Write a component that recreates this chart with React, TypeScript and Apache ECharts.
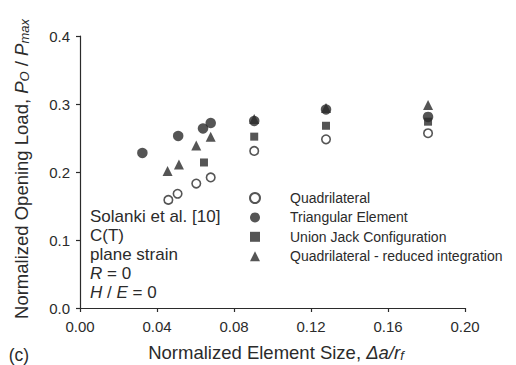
import React, { useEffect, useRef } from "react";
import * as echarts from "echarts";

// ---- data ----
const quadX = [0.0459, 0.0507, 0.0604, 0.0679, 0.0905, 0.1278, 0.1808];
const quadY = [0.159, 0.168, 0.183, 0.192, 0.231, 0.248, 0.257];

const triElemX = [0.0324, 0.051, 0.0639, 0.0679, 0.0905, 0.1278, 0.1808];
const triElemY = [0.228, 0.253, 0.264, 0.272, 0.275, 0.292, 0.281];

const unionX = [0.0644, 0.0905, 0.1278, 0.1808];
const unionY = [0.214, 0.252, 0.268, 0.274];

const reducedX = [0.0455, 0.0514, 0.0604, 0.0679, 0.0905, 0.1278, 0.1808];
const reducedY = [0.2015, 0.211, 0.239, 0.252, 0.278, 0.294, 0.2985];

const seriesNames = [
  "Quadrilateral",
  "Triangular Element",
  "Union Jack Configuration",
  "Quadrilateral - reduced integration",
];

const xTicks = { min: 0, max: 0.2, interval: 0.04 };
const yTicks = { min: 0, max: 0.4, interval: 0.1 };

const annotationLines = ["Solanki et al. [10]", "C(T)", "plane strain", "{i|R} = 0", "{i|H} / {i|E} = 0"];

const zip = (xs: number[], ys: number[]) => xs.map((x, i) => [x, ys[i]]);

const INK = "#2b2b2b";
const FONT = "'Liberation Sans', Arial, Helvetica, sans-serif";

export default function App() {
  const ref = useRef<HTMLDivElement>(null);
  useEffect(() => {
    if (!ref.current) return;
    const chart = echarts.init(ref.current, undefined, { renderer: "svg" });
    const titleRich = {
      i: { fontStyle: "italic", fontSize: 18.5, fontFamily: FONT, fill: INK, lineHeight: 20 },
      s: { fontStyle: "italic", fontSize: 13, fontFamily: FONT, fill: INK, lineHeight: 14, verticalAlign: "bottom" },
    };
    chart.setOption({
      animation: false,
      backgroundColor: "#ffffff",
      textStyle: { fontFamily: FONT, color: INK },
      grid: { left: 80, top: 36, width: 385, height: 272, containLabel: false },
      xAxis: {
        type: "value",
        min: xTicks.min,
        max: xTicks.max,
        interval: xTicks.interval,
        axisLine: { show: true, lineStyle: { color: INK, width: 1.2 } },
        axisTick: { show: true, inside: false, length: 4, lineStyle: { color: INK, width: 1.2 } },
        splitLine: { show: false },
        axisLabel: {
          margin: 11,
          fontSize: 15,
          color: INK,
          fontFamily: FONT,
          formatter: (v: number) => v.toFixed(2),
        },
      },
      yAxis: {
        type: "value",
        min: yTicks.min,
        max: yTicks.max,
        interval: yTicks.interval,
        axisLine: { show: true, lineStyle: { color: INK, width: 1.2 } },
        axisTick: { show: true, inside: false, length: 4, lineStyle: { color: INK, width: 1.2 } },
        splitLine: { show: false },
        axisLabel: {
          margin: 10,
          fontSize: 15,
          color: INK,
          fontFamily: FONT,
          formatter: (v: number) => v.toFixed(1),
        },
      },
      legend: {
        orient: "vertical",
        left: 249,
        top: 191,
        padding: 0,
        itemWidth: 10,
        itemHeight: 10,
        itemGap: 5.4,
        textStyle: { fontSize: 14, color: INK, fontFamily: FONT, padding: [0, 0, 0, 25] },
        data: seriesNames,
      },
      series: [
        {
          name: seriesNames[0],
          type: "scatter",
          symbol: "circle",
          symbolSize: 8.5,
          itemStyle: { color: "#ffffff", borderColor: INK, borderWidth: 1.6 },
          data: zip(quadX, quadY),
          z: 2,
        },
        {
          name: seriesNames[3],
          type: "scatter",
          symbol: "triangle",
          symbolSize: 10,
          itemStyle: { color: INK },
          data: zip(reducedX, reducedY),
          z: 3,
        },
        {
          name: seriesNames[2],
          type: "scatter",
          symbol: "rect",
          symbolSize: 8,
          itemStyle: { color: INK },
          data: zip(unionX, unionY),
          z: 4,
        },
        {
          name: seriesNames[1],
          type: "scatter",
          symbol: "circle",
          symbolSize: 10.5,
          itemStyle: { color: INK },
          data: zip(triElemX, triElemY),
          z: 5,
        },
      ],
      graphic: [
        {
          type: "text",
          x: 21,
          y: 169,
          rotation: Math.PI / 2,
          style: {
            text: "Normalized Opening Load, {i|P}{s|O} / {i|P}{s|max}",
            align: "center",
            verticalAlign: "middle",
            fontSize: 18.5,
            fontFamily: FONT,
            fill: INK,
            lineHeight: 20,
            rich: titleRich,
          },
        },
        {
          type: "text",
          x: 276,
          y: 352,
          style: {
            text: "Normalized Element Size, {i|\u0394a/r}{s|f}",
            align: "center",
            verticalAlign: "middle",
            fontSize: 18.5,
            fontFamily: FONT,
            fill: INK,
            lineHeight: 20,
            rich: titleRich,
          },
        },
        {
          type: "text",
          x: 19,
          y: 355,
          style: {
            text: "(c)",
            align: "center",
            verticalAlign: "middle",
            fontSize: 17.5,
            fontFamily: FONT,
            fill: INK,
          },
        },
        {
          type: "text",
          x: 90,
          y: 207,
          style: {
            text: annotationLines.join("\n"),
            align: "left",
            verticalAlign: "top",
            fontSize: 17,
            fontFamily: FONT,
            fill: INK,
            lineHeight: 19,
            rich: {
              i: { fontStyle: "italic", fontSize: 17, fontFamily: FONT, fill: INK, lineHeight: 19 },
            },
          },
        },
      ],
    });
    return () => chart.dispose();
  }, []);
  return <div ref={ref} style={{ width: 516, height: 365, position: "absolute", left: 0, top: 0 }} />;
}
